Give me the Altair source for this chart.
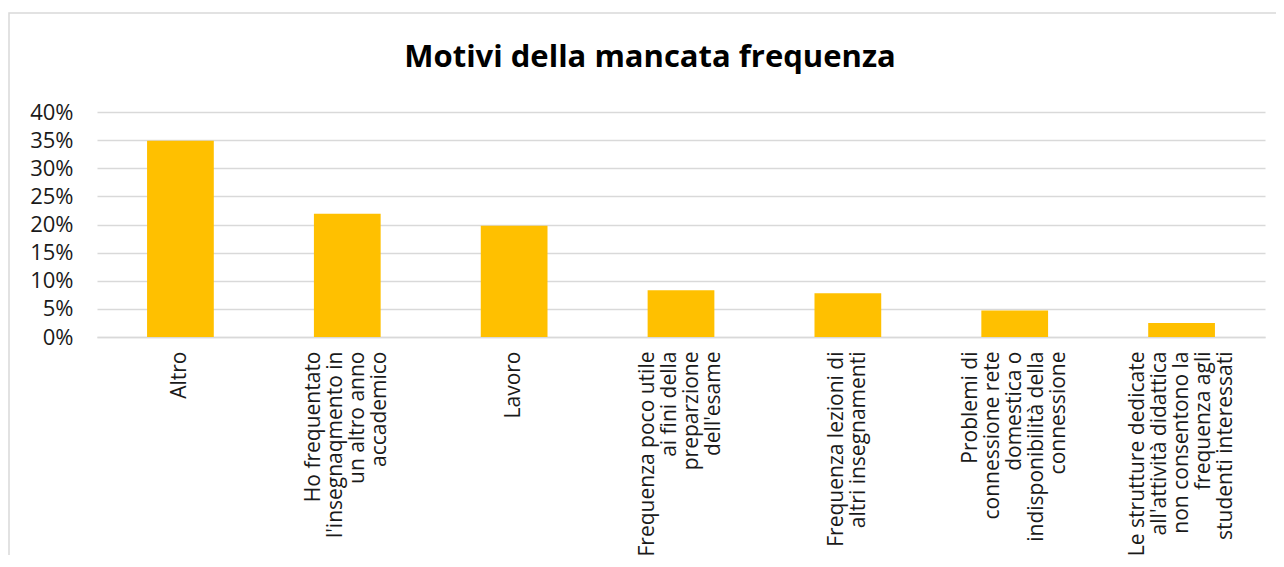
import altair as alt
import pandas as pd

categories = [
    "Altro",
    "Ho frequentato\nl'insegnaqmento in\nun altro anno\naccademico",
    "Lavoro",
    "Frequenza poco utile\nai fini della\npreparzione\ndell'esame",
    "Frequenza lezioni di\naltri insegnamenti",
    "Problemi di\nconnessione rete\ndomestica o\nindisponibilità della\nconnessione",
    "Le strutture dedicate\nall'attività didattica\nnon consentono la\nfrequenza agli\nstudenti interessati",
]
values = [0.349, 0.219, 0.198, 0.083, 0.078, 0.047, 0.025]
y_ticks = [0, 0.05, 0.10, 0.15, 0.20, 0.25, 0.30, 0.35, 0.40]

df = pd.DataFrame({"motivo": categories, "quota": values})

FONT = "Open Sans"
LH = 22

n_lines = "length(split(datum.label, '\\n'))"
label_offset = {
    "condition": [
        {"test": f"{n_lines} == 2", "value": -LH / 2},
        {"test": f"{n_lines} == 4", "value": -3 * LH / 2},
        {"test": f"{n_lines} == 5", "value": -2 * LH},
    ],
    "value": 0,
}

bars = alt.Chart(df).mark_bar(color="#FFC000").encode(
    x=alt.X(
        "motivo:N",
        sort=None,
        title=None,
        scale=alt.Scale(paddingInner=0.6, paddingOuter=0.3),
        axis=alt.Axis(
            labelAngle=-90,
            labelAlign="right",
            labelBaseline="middle",
            labelExpr="split(datum.label, '\\n')",
            labelFont=FONT,
            labelFontSize=21,
            labelLineHeight=LH,
            labelColor="#1a1a1a",
            labelPadding=14,
            labelLimit=400,
            labelOffset=label_offset,
            ticks=False,
            domain=True,
            domainColor="#d9d9d9",
            domainWidth=1.5,
            grid=False,
        ),
    ),
    y=alt.Y(
        "quota:Q",
        title=None,
        scale=alt.Scale(domain=[0, 0.4], nice=False),
        axis=alt.Axis(
            values=y_ticks,
            format=".0%",
            labelFont=FONT,
            labelFontSize=22,
            labelColor="#1a1a1a",
            labelPadding=24,
            ticks=False,
            domain=False,
            grid=True,
            gridColor="#d9d9d9",
            gridWidth=1.5,
        ),
    ),
)

frame = alt.Chart(pd.DataFrame({"k": [0]})).mark_rect(
    fill=None, stroke="#d9d9d9", strokeWidth=1.5
).encode(
    x=alt.value(-88), x2=alt.value(1200), y=alt.value(-99), y2=alt.value(520)
)

chart = alt.layer(frame, bars).properties(
    width=1168,
    height=225,
    padding={"left": 89, "top": 104, "right": 11, "bottom": 218},
    autosize=alt.AutoSizeParams(type="none"),
    title=alt.TitleParams(
        "Motivi della mancata frequenza",
        font=FONT,
        fontSize=31,
        fontWeight="bold",
        color="#000000",
        anchor="middle",
        frame="group",
        offset=-62,
        dx=-31,
    ),
).configure_view(stroke=None)

chart.save("out.html", embed_options={"renderer": "svg", "actions": False})
